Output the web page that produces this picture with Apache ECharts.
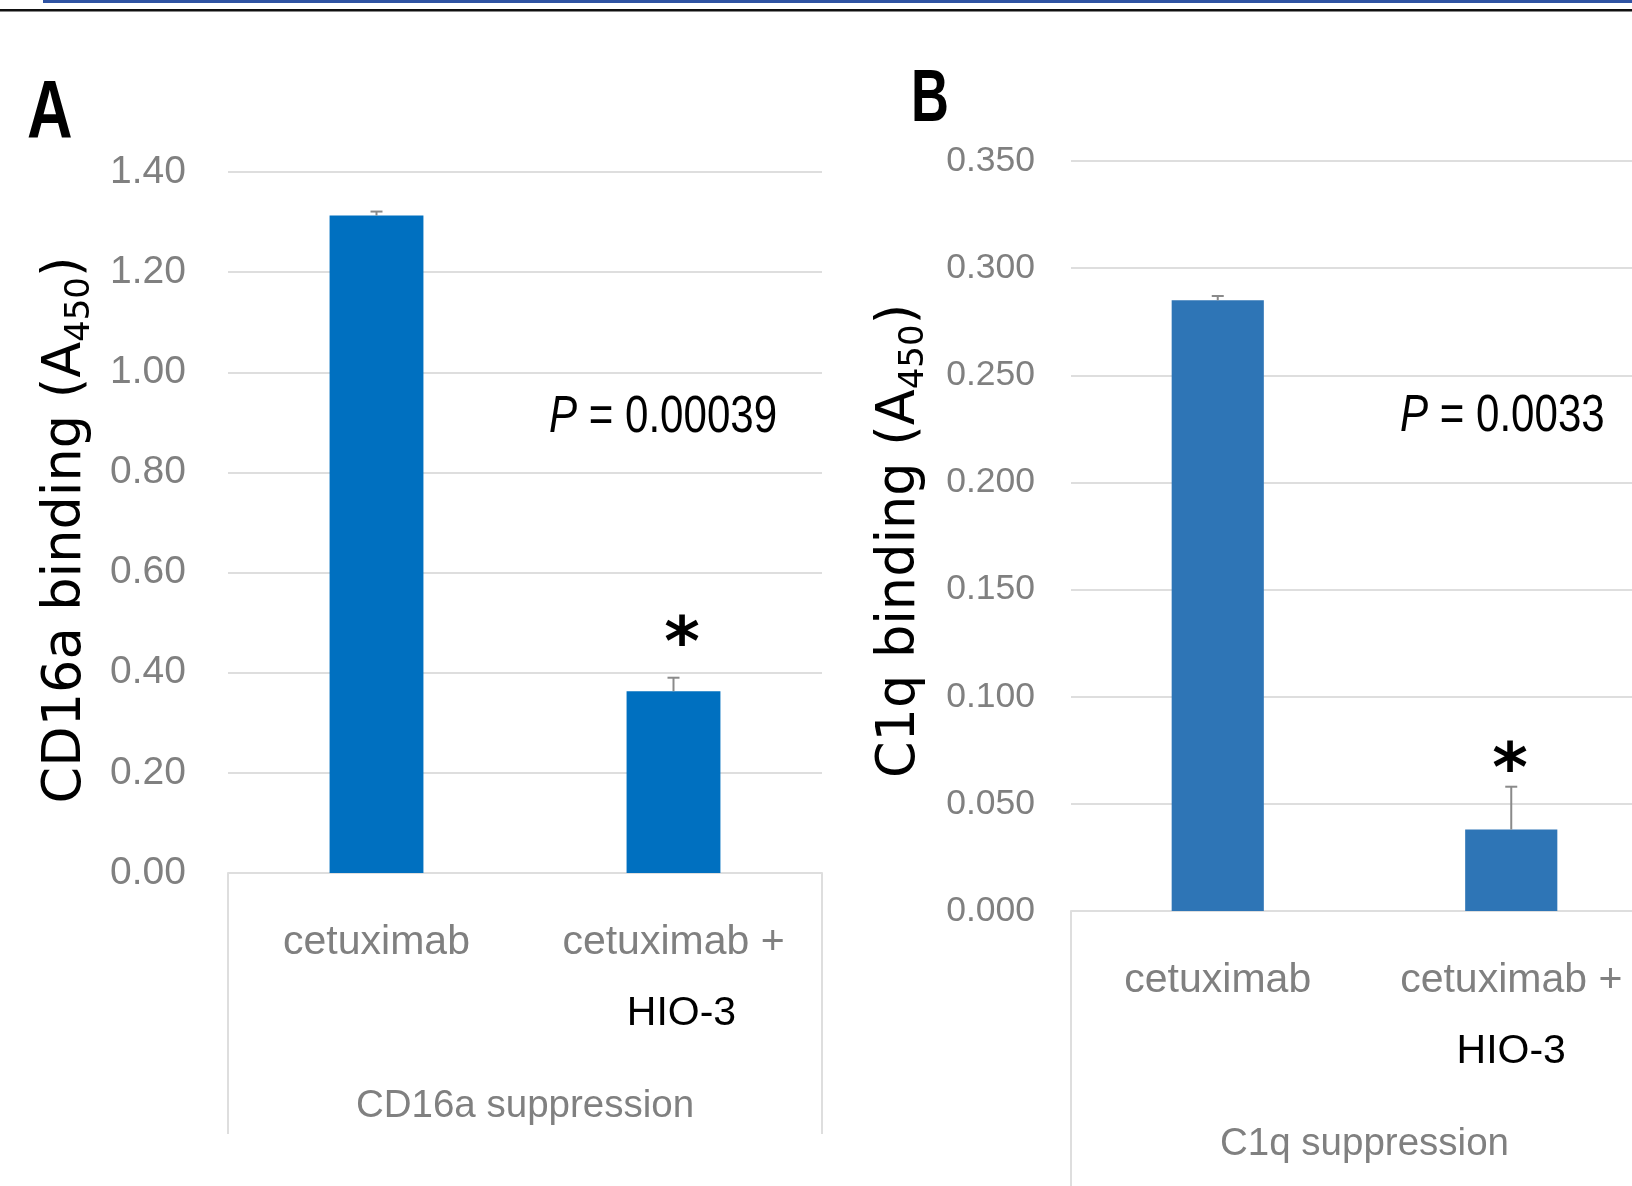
<!DOCTYPE html>
<html>
<head>
<meta charset="utf-8">
<script src="https://cdn.jsdelivr.net/npm/echarts@6/dist/echarts.min.js"></script>
<style>
html,body{margin:0;padding:0;background:#fff;}
#chart{width:1632px;height:1186px;}
</style>
</head>
<body>
<div id="chart"></div>
<script>
// ---- data ----
var categories = ['cetuximab', 'cetuximab +\nHIO-3'];
var cd16aValues = [1.313, 0.363];
var cd16aErrors = [0.008, 0.027];
var c1qValues = [0.285, 0.038];
var c1qErrors = [0.002, 0.020];
var yAxisA = {min: 0, max: 1.4, interval: 0.2, decimals: 2};
var yAxisB = {min: 0, max: 0.35, interval: 0.05, decimals: 3};
var panelA = {letter: 'A', yTitle: 'CD16a binding (A', xTitle: 'CD16a suppression', p: '0.00039'};
var panelB = {letter: 'B', yTitle: 'C1q binding (A', xTitle: 'C1q suppression', p: '0.0033'};

var SANS = '"Liberation Sans", Arial, sans-serif';
var GREY = '#808080';
var GRIDC = '#dedede';

var chart = echarts.init(document.getElementById('chart'), null, {renderer: 'canvas'});

function xAxisCfg(gridIndex, name, hioPad) {
  return {
    type: 'category', gridIndex: gridIndex, data: categories,
    axisLine: {show: true, lineStyle: {color: GRIDC, width: 2}},
    axisTick: {show: false},
    splitLine: {show: false},
    axisLabel: {
      interval: 0, margin: 34, color: GREY, fontFamily: SANS, fontSize: 41, lineHeight: 71,
      formatter: function (v) {
        var parts = v.split('\n');
        if (parts.length > 1) return parts[0] + '\n{k|' + parts[1] + '}';
        return v;
      },
      rich: {k: {color: '#000', fontFamily: SANS, fontSize: 41, lineHeight: 71, padding: [0, 0, 0, hioPad]}}
    },
    name: name, nameLocation: 'middle', nameGap: 233,
    nameTextStyle: {color: GREY, fontFamily: SANS, fontSize: 38.5, verticalAlign: 'middle'}
  };
}
function yAxisCfg(gridIndex, ax, margin, fs) {
  return {
    type: 'value', gridIndex: gridIndex, min: ax.min, max: ax.max, interval: ax.interval,
    axisLine: {show: false}, axisTick: {show: false},
    splitLine: {show: true, lineStyle: {color: GRIDC, width: 2}},
    axisLabel: {margin: margin, color: GREY, fontFamily: SANS, fontSize: fs,
      formatter: function (v) { return v.toFixed(ax.decimals); }}
  };
}
function errSeries(idx, values, errors) {
  return {
    type: 'custom', xAxisIndex: idx, yAxisIndex: idx, z: 5,
    data: values.map(function (v, i) { return [i, v, v + errors[i]]; }),
    renderItem: function (params, api) {
      var lo = api.coord([api.value(0), api.value(1)]);
      var hi = api.coord([api.value(0), api.value(2)]);
      var st = {stroke: '#8a8a8a', lineWidth: 2};
      return {type: 'group', children: [
        {type: 'line', shape: {x1: lo[0], y1: lo[1], x2: hi[0], y2: hi[1]}, style: st},
        {type: 'line', shape: {x1: hi[0] - 6, y1: hi[1], x2: hi[0] + 6, y2: hi[1]}, style: st}
      ]};
    }
  };
}

var gA = {left: 228, top: 172, width: 594, height: 701, containLabel: false, outerBoundsMode: 'none'};
var gB = {left: 1071, top: 161, width: 587, height: 750, containLabel: false, outerBoundsMode: 'none'};

function yTitle(txt, x, y) {
  return {
    type: 'text', x: x, y: y, rotation: Math.PI / 2,
    style: {
      text: txt + '{s|450})', x: 0, y: 0, align: 'center', verticalAlign: 'middle',
      fontFamily: '"DejaVu Sans", sans-serif', fontSize: 52.5, fill: '#000', lineHeight: 62,
      rich: {s: {fontFamily: '"DejaVu Sans", sans-serif', fontSize: 34, lineHeight: 28, verticalAlign: 'bottom', fill: '#000'}}
    }
  };
}
function pText(p, x, y) {
  return {
    type: 'text', x: x, y: y, scaleX: 0.825,
    style: {text: '{i|P} = ' + p, align: 'left', verticalAlign: 'middle',
      fontFamily: SANS, fontSize: 51, fill: '#000',
      rich: {i: {fontFamily: SANS, fontSize: 51, fontStyle: 'italic', fill: '#000'}}}
  };
}
function star(x, y) {
  return {type: 'text', x: x, y: y, style: {text: '*', align: 'center', verticalAlign: 'middle',
    fontFamily: '"DejaVu Sans", sans-serif', fontWeight: 'bold', fontSize: 68, fill: '#000'}};
}
function vline(x, y1, y2) {
  return {type: 'line', shape: {x1: x, y1: y1, x2: x, y2: y2}, style: {stroke: GRIDC, lineWidth: 2}};
}

var option = {
  backgroundColor: '#fff',
  animation: false,
  grid: [gA, gB],
  xAxis: [xAxisCfg(0, panelA.xTitle, 16), xAxisCfg(1, panelB.xTitle, 0)],
  yAxis: [yAxisCfg(0, yAxisA, 42, 39), yAxisCfg(1, yAxisB, 36, 35.5)],
  series: [
    {type: 'bar', xAxisIndex: 0, yAxisIndex: 0, data: cd16aValues, barWidth: '31.6%',
      itemStyle: {color: '#0070c0'}},
    {type: 'bar', xAxisIndex: 1, yAxisIndex: 1, data: c1qValues, barWidth: '31.4%',
      itemStyle: {color: '#2e75b6'}},
    errSeries(0, cd16aValues, cd16aErrors),
    errSeries(1, c1qValues, c1qErrors)
  ],
  graphic: [
    {type: 'rect', shape: {x: 43, y: 0, width: 1600, height: 3}, style: {fill: '#2f53a3'}},
    {type: 'rect', shape: {x: 0, y: 9, width: 1632, height: 2.5}, style: {fill: '#111'}},
    {type: 'text', x: 27, y: 114, scaleX: 0.77, style: {text: panelA.letter, align: 'left', verticalAlign: 'middle',
      fontFamily: SANS, fontWeight: 'bold', fontSize: 82, fill: '#000'}},
    {type: 'text', x: 911, y: 100, scaleX: 0.7, style: {text: panelB.letter, align: 'left', verticalAlign: 'middle',
      fontFamily: SANS, fontWeight: 'bold', fontSize: 75, fill: '#000'}},
    yTitle(panelA.yTitle, 66, 530),
    yTitle(panelB.yTitle, 900, 541),
    pText(panelA.p, 549, 418),
    pText(panelB.p, 1400, 417),
    star(682, 647),
    star(1510, 773),
    vline(228, 873, 1134),
    vline(822, 873, 1134),
    vline(1071, 911, 1186)
  ]
};
chart.setOption(option);
</script>
</body>
</html>
